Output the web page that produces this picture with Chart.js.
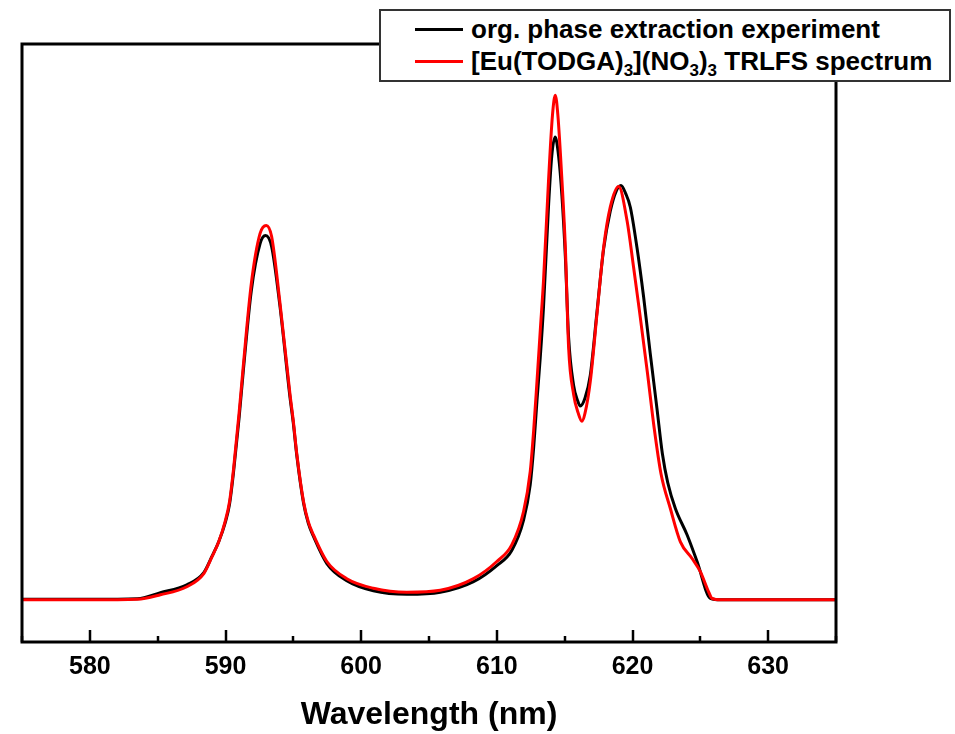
<!DOCTYPE html>
<html>
<head>
<meta charset="utf-8">
<script src="https://cdn.jsdelivr.net/npm/chart.js@4/dist/chart.umd.min.js"></script>
<style>
  html, body { margin: 0; padding: 0; background: #fff; }
  #wrap { position: relative; width: 955px; height: 734px; }
  #legend {
    position: absolute; left: 379px; top: 9px; width: 568px; height: 69px;
    background: #fff; border: 2px solid #333;
    font-family: "Liberation Sans", Arial, sans-serif; font-weight: bold; font-size: 26px; color: #000;
  }
  .row { position: absolute; left: 0; height: 30px; line-height: 30px; white-space: nowrap; }
  .swatch { position: absolute; left: 34px; top: 14px; width: 48px; height: 3px; }
  .label { position: absolute; left: 90px; top: 0; }
  sub { font-size: 17px; line-height: 0; vertical-align: -6px; }
</style>
</head>
<body>
<div id="wrap">
  <canvas id="spectrum" width="955" height="734"></canvas>
  <div id="legend">
    <div class="row" style="top:3px"><span class="swatch" style="background:#000"></span><span class="label">org. phase extraction experiment</span></div>
    <div class="row" style="top:35px"><span class="swatch" style="background:#ff0000"></span><span class="label">[Eu(TODGA)<sub>3</sub>](NO<sub>3</sub>)<sub>3</sub> TRLFS spectrum</span></div>
  </div>
</div>
<script>
// org. phase extraction experiment (black)
const wlExp = [575, 580, 583.5, 585.2, 587.15, 588.4, 589.0, 589.5, 589.97, 590.3, 590.6, 591.0, 591.3, 591.9, 592.55, 592.95, 593.4, 594.0, 594.76, 595.0, 595.26, 595.75, 596.1, 596.48, 597.47, 598.94, 600.9, 603.37, 605.83, 608.28, 610.0, 611.1, 611.97, 612.46, 612.71, 612.96, 613.2, 613.44, 613.81, 614.05, 614.3, 614.55, 614.8, 615.05, 615.29, 615.66, 615.95, 616.15, 616.5, 616.89, 617.38, 617.87, 618.36, 618.8, 619.15, 619.5, 619.84, 620.33, 620.82, 621.3, 621.8, 622.2, 622.6, 623.16, 624.02, 624.76, 625.74, 626.5, 635];
const intExp = [0.001, 0.001, 0.002, 0.014, 0.030, 0.054, 0.086, 0.115, 0.152, 0.190, 0.255, 0.360, 0.450, 0.612, 0.706, 0.722, 0.700, 0.585, 0.400, 0.350, 0.285, 0.192, 0.152, 0.126, 0.072, 0.038, 0.018, 0.011, 0.015, 0.036, 0.068, 0.098, 0.158, 0.228, 0.300, 0.395, 0.480, 0.580, 0.780, 0.880, 0.917, 0.880, 0.800, 0.680, 0.520, 0.425, 0.395, 0.384, 0.400, 0.445, 0.570, 0.695, 0.770, 0.810, 0.821, 0.805, 0.778, 0.698, 0.600, 0.490, 0.380, 0.290, 0.232, 0.181, 0.129, 0.076, 0.003, 0.000, 0.000];

// [Eu(TODGA)3](NO3)3 TRLFS spectrum (red)
const wlRef = [575, 580, 583.5, 585.2, 587.15, 588.4, 589.0, 589.5, 589.97, 590.3, 590.6, 591.0, 591.3, 591.9, 592.55, 593.0, 593.4, 594.0, 594.76, 595.0, 595.26, 595.75, 596.1, 596.48, 597.47, 598.94, 600.9, 603.37, 605.83, 608.28, 610.0, 611.1, 611.97, 612.46, 612.71, 612.96, 613.2, 613.44, 613.81, 614.1, 614.31, 614.5, 614.8, 615.05, 615.29, 615.66, 616.0, 616.27, 616.5, 616.89, 617.38, 617.87, 618.36, 618.98, 619.6, 620.08, 620.5, 621.1, 621.6, 622.1, 622.79, 623.53, 624.39, 625.0, 625.61, 625.86, 626.5, 635];
const intRef = [0.000, 0.000, 0.001, 0.010, 0.026, 0.052, 0.085, 0.115, 0.155, 0.195, 0.261, 0.370, 0.460, 0.626, 0.726, 0.742, 0.720, 0.592, 0.406, 0.354, 0.288, 0.195, 0.155, 0.129, 0.076, 0.042, 0.023, 0.015, 0.019, 0.042, 0.076, 0.109, 0.175, 0.254, 0.334, 0.433, 0.533, 0.632, 0.831, 0.960, 1.000, 0.960, 0.831, 0.698, 0.500, 0.407, 0.370, 0.354, 0.370, 0.433, 0.566, 0.698, 0.778, 0.819, 0.751, 0.659, 0.575, 0.450, 0.340, 0.250, 0.181, 0.115, 0.082, 0.056, 0.016, 0.003, 0.000, 0.000];

const xTicks = [580, 590, 600, 610, 620, 630];

const toPoints = (xs, ys) => xs.map((x, i) => ({ x: x, y: ys[i] }));

// frame round the plot area + inward ticks on the bottom axis
const framePlugin = {
    id: 'frame',
    afterDraw(chart) {
        const { ctx, chartArea: a, scales } = chart;
        ctx.save();
        ctx.strokeStyle = '#000';
        ctx.lineWidth = 3;
        ctx.strokeRect(a.left, a.top, a.right - a.left, a.bottom - a.top);
        ctx.lineWidth = 2.5;
        const xs = scales.x;
        for (let v = xs.min; v <= xs.max; v += 5) {
            const px = Math.round(xs.getPixelForValue(v));
            const len = v % 10 === 0 ? 12 : 6;
            ctx.beginPath();
            ctx.moveTo(px, a.bottom);
            ctx.lineTo(px, a.bottom - len);
            ctx.stroke();
        }
        ctx.restore();
    }
};

new Chart(document.getElementById('spectrum'), {
    type: 'line',
    data: {
        datasets: [
            {
                label: 'org. phase extraction experiment',
                data: toPoints(wlExp, intExp),
                borderColor: '#000000',
                borderWidth: 3,
                pointRadius: 0,
                cubicInterpolationMode: 'monotone',
                order: 2,
            },
            {
                label: '[Eu(TODGA)3](NO3)3 TRLFS spectrum',
                data: toPoints(wlRef, intRef),
                borderColor: '#ff0000',
                borderWidth: 3,
                pointRadius: 0,
                cubicInterpolationMode: 'monotone',
                order: 1,
            },
        ],
    },
    options: {
        responsive: false,
        animation: false,
        layout: { padding: { left: 22, right: 119, top: 44, bottom: 0 } },
        plugins: {
            legend: { display: false },
            tooltip: { enabled: false },
        },
        scales: {
            x: {
                type: 'linear',
                min: 575,
                max: 635,
                afterBuildTicks: (scale) => { scale.ticks = xTicks.map(v => ({ value: v })); },
                grid: { display: false, drawTicks: false },
                border: { display: false },
                ticks: {
                    padding: 10,
                    color: '#000',
                    font: { family: '"Liberation Sans", Arial, sans-serif', size: 25, weight: 'bold' },
                },
                title: {
                    display: true,
                    text: 'Wavelength (nm)',
                    color: '#000',
                    padding: { top: 3.6, bottom: 0 },
                    font: { family: '"Liberation Sans", Arial, sans-serif', size: 32, weight: 'bold' },
                },
            },
            y: {
                display: false,
                min: -0.0835,
                max: 1.1014,
            },
        },
    },
    plugins: [framePlugin],
});
</script>
</body>
</html>
